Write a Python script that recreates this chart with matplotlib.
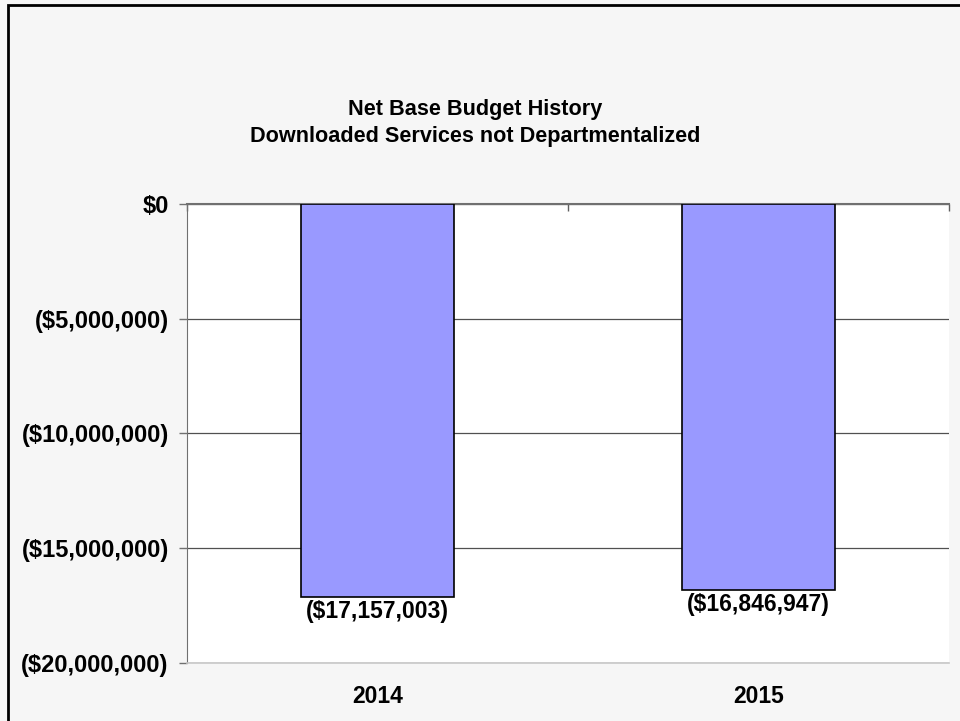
import matplotlib
matplotlib.use('Agg')
import matplotlib.pyplot as plt
from matplotlib.patches import Rectangle
from matplotlib.ticker import FuncFormatter

plt.rcParams['font.family'] = ['Liberation Sans', 'DejaVu Sans']
plt.rcParams['font.weight'] = 'bold'

years = ['2014', '2015']
net_budget = [-17157003, -16846947]
yticks = [0, -5000000, -10000000, -15000000, -20000000]
title = 'Net Base Budget History\nDownloaded Services not Departmentalized'


def money(v, pos=None):
    if v < 0:
        return '(${:,.0f})'.format(-v)
    return '${:,.0f}'.format(v)


fig = plt.figure(figsize=(9.6, 7.21), dpi=100, facecolor='#f6f6f6')
ax = fig.add_axes([0.1945, 0.0809, 0.794, 0.6361])
ax.set_facecolor('white')

x = range(len(years))
bars = ax.bar(x, net_budget, width=0.4, color='#9999ff', edgecolor='black',
              linewidth=1.2, zorder=3)

ax.set_ylim(-20000000, 0)
ax.set_xlim(-0.5, len(years) - 0.5)
ax.set_yticks(yticks)
ax.yaxis.set_major_formatter(FuncFormatter(money))
ax.yaxis.grid(True, color='#505050', linewidth=0.9, zorder=1)

ax.set_xticks(list(x))
ax.set_xticklabels(years)
ax.tick_params(axis='x', which='major', length=0, pad=16, labelsize=16.5)
ax.set_xticks([-0.5, 0.5, 1.5], minor=True)
ax.tick_params(axis='x', which='minor', bottom=False, top=True,
               direction='in', length=5, color='#606060', width=1)
ax.tick_params(axis='y', length=6, color='#707070', width=1, labelsize=17, pad=7)

ax.spines['top'].set_color('#707070')
ax.spines['top'].set_linewidth(1.5)
ax.spines['left'].set_color('#707070')
ax.spines['bottom'].set_color('#c8c8c8')
ax.spines['bottom'].set_linewidth(1.2)
ax.spines['right'].set_visible(False)

ax.bar_label(bars, labels=[money(v) for v in net_budget], padding=2,
             fontsize=16.5, fontweight='bold')

fig.text(0.495, 0.8295, title, ha='center', va='center', fontsize=15.6,
         fontweight='bold', linespacing=1.38)

fig.patches.append(Rectangle((8 / 960, -0.1), 1.2, 1.0924, transform=fig.transFigure,
                             fill=False, edgecolor='black', linewidth=2))

fig.savefig('out.png', dpi=100, facecolor=fig.get_facecolor())
